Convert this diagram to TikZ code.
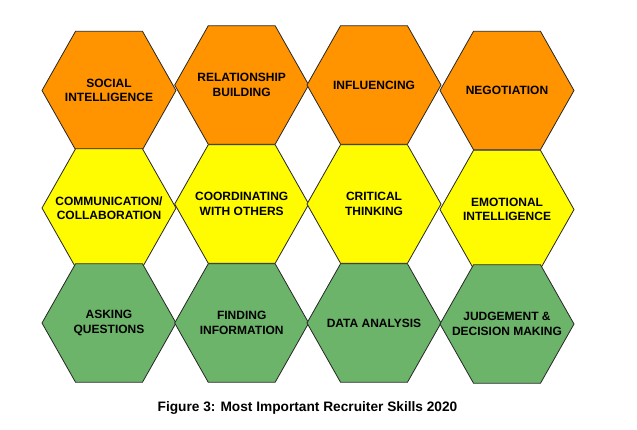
\documentclass[tikz,border=0pt]{standalone}
\usepackage{fontspec}
\setmainfont{Liberation Sans}[BoldFont={Liberation Sans Bold}]
\usetikzlibrary{shapes.geometric}
\definecolor{hexorange}{HTML}{FF9300}
\definecolor{hexyellow}{HTML}{FFFB00}
\definecolor{hexgreen}{HTML}{6CB46A}
\tikzset{
  hex/.style={regular polygon, regular polygon sides=6, minimum size=134pt,
    inner sep=0pt, outer sep=0pt, draw=black!85, line width=0.8pt, yscale=1.02},
  orangehex/.style={hex, fill=hexorange},
  yellowhex/.style={hex, fill=hexyellow},
  greenhex/.style={hex, fill=hexgreen},
  hexlabel/.style={align=center, inner sep=0pt,
    font=\bfseries\fontsize{12}{14.5}\selectfont, text=black},
  caption/.style={font=\bfseries\fontsize{13.7}{16}\selectfont, inner sep=0pt}
}
\begin{document}
\begin{tikzpicture}[x=1pt,y=-1pt]
\useasboundingbox[fill=white] (0,0) rectangle (637,429);
% row 1
\node[orangehex] (h1) at (109,90.5) {};
\node[orangehex] (h2) at (241.7,85) {};
\node[orangehex] (h3) at (374,85) {};
\node[orangehex] (h4) at (507,90.5) {};
% row 2
\node[yellowhex] (h5) at (109,208) {};
\node[yellowhex] (h6) at (241.7,204) {};
\node[yellowhex] (h7) at (374,204) {};
\node[yellowhex] (h8) at (507,209.5) {};
% row 3
\node[greenhex] (h9) at (109,323) {};
\node[greenhex] (h10) at (241.7,323) {};
\node[greenhex] (h11) at (374,323) {};
\node[greenhex] (h12) at (507,324) {};
% labels
\node[hexlabel] (t1) at (h1.center) {SOCIAL\\INTELLIGENCE};
\node[hexlabel] (t2) at (h2.center) {RELATIONSHIP\\BUILDING};
\node[hexlabel] (t3) at (h3.center) {INFLUENCING};
\node[hexlabel] (t4) at (h4.center) {NEGOTIATION};
\node[hexlabel] (t5) at (h5.center) {COMMUNICATION/\\COLLABORATION};
\node[hexlabel] (t6) at (h6.center) {COORDINATING\\WITH OTHERS};
\node[hexlabel] (t7) at (h7.center) {CRITICAL\\THINKING};
\node[hexlabel] (t8) at (h8.center) {EMOTIONAL\\INTELLIGENCE};
\node[hexlabel] (t9) at (h9.center) {ASKING\\QUESTIONS};
\node[hexlabel] (t10) at (h10.center) {FINDING\\INFORMATION};
\node[hexlabel] (t11) at (h11.center) {DATA ANALYSIS};
\node[hexlabel] (t12) at (h12.center) {JUDGEMENT \&\\DECISION MAKING};
% caption
\node[caption] (cap) at (307.5,408) {Figure 3: Most Important Recruiter Skills 2020};
\end{tikzpicture}
\end{document}
